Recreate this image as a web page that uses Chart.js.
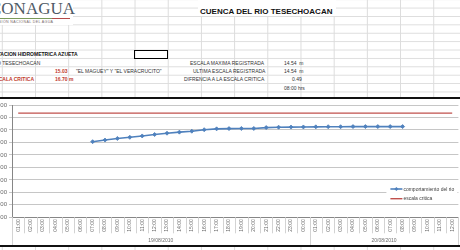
<!DOCTYPE html>
<html>
<head>
<meta charset="utf-8">
<script src="https://cdn.jsdelivr.net/npm/chart.js@4.4.1/dist/chart.umd.min.js"></script>
<style>
  html, body { margin: 0; padding: 0; width: 460px; height: 250px; overflow: hidden; background: #fff; }
  body { font-family: 'Liberation Sans', Arial, sans-serif; position: relative; }
  #sheet {
    position: absolute; left: 0; top: 0; width: 460px; height: 250px;
    background-image: linear-gradient(to right, #dcdcdc 1px, transparent 1px),
                      linear-gradient(to bottom, #dcdcdc 1px, transparent 1px);
    background-size: 33.2px 8.4px;
    background-position: 1.8px 7.6px;
  }
  .t { position: absolute; white-space: nowrap; font-size: 5px; line-height: 6px; color: #333; }
  .b { font-weight: bold; color: #111; }
  .r { font-weight: bold; color: #c0392b; }
  .blank { position: absolute; background: #fff; }
  #logo { position: absolute; left: -10px; top: 0px; font-family: 'Liberation Serif', serif; font-size: 17px; line-height: 18px; color: #4f5a66; }
  #logoline { position: absolute; left: 0; top: 18px; width: 70px; height: 1px; background: linear-gradient(to right, #7a9a5a 0%, #7a9a5a 75%, #b34a4a 75%); }
  #logosub { position: absolute; left: -12px; top: 20px; font-size: 3.6px; line-height: 4px; color: #7a6a6a; letter-spacing: 0.35px; }
  #title { position: absolute; left: 200px; top: 7px; font-size: 8px; line-height: 10px; font-weight: bold; color: #111; }
  #selcell { position: absolute; left: 134px; top: 49.6px; width: 32px; height: 7px; border: 1px solid #000; }
  #frameTop { position: absolute; left: 0; top: 97px; width: 460px; height: 2px; background: #111; }
  #frameBot { position: absolute; left: 0; top: 245px; width: 460px; height: 2px; background: #111; }
  #chartBox { position: absolute; left: -28px; top: 99px; width: 492px; height: 146px; background: #fff; }
</style>
</head>
<body>
<div id="sheet"></div>
<div class="blank" style="left:0;top:0;width:73px;height:25px"></div>
<div class="blank" style="left:198px;top:0;width:138px;height:16px"></div>
<div id="logo">CONAGUA</div>
<div id="logoline"></div>
<div id="logosub">COMISIÓN NACIONAL DEL AGUA</div>
<div id="title">CUENCA DEL RIO TESECHOACAN</div>

<div class="t b" style="left:-9px;top:51px">ESTACION HIDROMETRICA AZUETA</div>
<div id="selcell"></div>
<div class="t" style="left:-8px;top:59.5px">RIO TESECHOACAN</div>
<div class="t" style="left:190px;top:59.5px">ESCALA MAXIMA REGISTRADA</div>
<div class="t" style="left:284px;top:59.5px">14.54&nbsp; m</div>
<div class="t r" style="left:55px;top:67.8px">15.03</div>
<div class="t" style="left:76px;top:67.8px">"EL MAGUEY" Y "EL VERACRUCITO"</div>
<div class="t" style="left:193px;top:67.8px">ULTIMA ESCALA REGISTRADA</div>
<div class="t" style="left:284px;top:67.8px">14.54&nbsp; m</div>
<div class="t r" style="left:-8px;top:76px">ESCALA CRITICA</div>
<div class="t r" style="left:55px;top:76px">16.70 m</div>
<div class="t" style="left:184px;top:76px">DIFRENCIA A LA ESCALA CRITICA</div>
<div class="t" style="left:292px;top:76px">0.49</div>
<div class="t" style="left:284px;top:84.5px">08:00 hrs</div>

<div id="frameTop"></div>
<div id="chartBox"><canvas id="c"></canvas></div>
<div id="frameBot"></div>

<script>
// categories: hourly readings over two days
const hours = [
  '01:00','02:00','03:00','04:00','05:00','06:00','07:00','08:00','09:00','10:00','11:00','12:00',
  '13:00','14:00','15:00','16:00','17:00','18:00','19:00','20:00','21:00','22:00','23:00','00:00',
  '01:00','02:00','03:00','04:00','05:00','06:00','07:00','08:00','09:00','10:00','11:00','12:00'
];
const days = ['19/08/2010', '20/08/2010'];
const dayLengths = [24, 12];

// river level (m)
const nivelRio = [
  null, null, null, null, null, null, 12.12, 12.38, 12.64, 12.82, 13.04, 13.27,
  13.48, 13.65, 13.80, 14.04, 14.18, 14.22, 14.24, 14.24, 14.38, 14.44, 14.46, 14.48,
  14.50, 14.52, 14.52, 14.54, 14.54, 14.54, 14.54, 14.54, null, null, null, null
];
const escalaCritica = hours.map(() => 16.70);

const yTicks = { min: 0, max: 18, step: 2 };

const labelColor = '#6a6a6a';

const groupAxis = {
  id: 'groupAxis',
  afterDraw(chart) {
    const x = chart.scales.x;
    const a = chart.chartArea;
    const ctx = chart.ctx;
    const step = x.getPixelForValue(1) - x.getPixelForValue(0);
    ctx.save();
    ctx.strokeStyle = '#d3d3d3';
    ctx.lineWidth = 1;
    for (let i = 0; i <= hours.length; i++) {
      const px = Math.round(x.getPixelForValue(i) - step / 2) + 0.5;
      ctx.beginPath();
      ctx.moveTo(px, a.bottom);
      ctx.lineTo(px, a.bottom + 16);
      ctx.stroke();
    }
    ctx.fillStyle = labelColor;
    ctx.font = '5px "Liberation Sans"';
    ctx.textAlign = 'center';
    ctx.textBaseline = 'middle';
    let start = 0;
    days.forEach((d, k) => {
      const end = start + dayLengths[k];
      const x0 = x.getPixelForValue(start) - step / 2;
      const x1 = x.getPixelForValue(end - 1) + step / 2;
      [x0, x1].forEach(px => {
        const p = Math.round(px) + 0.5;
        ctx.beginPath();
        ctx.moveTo(p, a.bottom);
        ctx.lineTo(p, chart.height);
        ctx.stroke();
      });
      ctx.fillText(d, (x0 + x1) / 2, a.bottom + 23.5);
      start = end;
    });

    // legend box inside the plot, lower right
    const lx = a.right - 72, ly = a.top + 79;
    ctx.fillStyle = '#fff';
    ctx.fillRect(lx, ly, 71, 20);
    ctx.textAlign = 'left';
    ctx.font = '5px "Liberation Sans"';
    chart.data.datasets.forEach((ds, i) => {
      const yy = ly + 5 + i * 9.7;
      ctx.strokeStyle = ds.borderColor;
      ctx.lineWidth = ds.borderWidth;
      ctx.beginPath();
      ctx.moveTo(lx + 4, yy);
      ctx.lineTo(lx + 16, yy);
      ctx.stroke();
      if (ds.pointRadius > 0) {
        ctx.fillStyle = ds.borderColor;
        ctx.beginPath();
        ctx.moveTo(lx + 10, yy - 2);
        ctx.lineTo(lx + 12, yy);
        ctx.lineTo(lx + 10, yy + 2);
        ctx.lineTo(lx + 8, yy);
        ctx.closePath();
        ctx.fill();
      }
      ctx.fillStyle = '#404040';
      ctx.fillText(ds.label, lx + 17, yy + 0.3);
    });
    ctx.restore();
  }
};

Chart.defaults.font.family = '"Liberation Sans", Arial, sans-serif';

new Chart(document.getElementById('c'), {
  type: 'line',
  data: {
    labels: hours,
    datasets: [
      {
        label: 'comportamiento del rio',
        data: nivelRio,
        borderColor: '#4f81bd',
        backgroundColor: '#4f81bd',
        borderWidth: 1.6,
        pointStyle: 'rectRot',
        pointRadius: 2,
        pointBorderWidth: 0.8,
        tension: 0,
        spanGaps: false
      },
      {
        label: 'escala critica',
        data: escalaCritica,
        borderColor: '#c0504d',
        backgroundColor: '#c0504d',
        borderWidth: 1.4,
        pointRadius: 0,
        tension: 0
      }
    ]
  },
  options: {
    responsive: true,
    maintainAspectRatio: false,
    animation: false,
    layout: { padding: { top: 6, right: 5.6, left: 0, bottom: 0 } },
    plugins: { legend: { display: false }, tooltip: { enabled: false } },
    scales: {
      x: {
        type: 'category',
        offset: true,
        afterFit(s) { s.height = 27.7; },
        grid: { display: true, drawOnChartArea: false, drawTicks: false, color: '#d3d3d3' },
        border: { color: '#868686', width: 1 },
        ticks: {
          autoSkip: false, minRotation: 90, maxRotation: 90, padding: 2,
          color: labelColor, font: { size: 5 }
        }
      },
      y: {
        min: yTicks.min,
        max: yTicks.max,
        afterFit(s) { s.width = 40; },
        grid: { color: '#c6c6c6', tickLength: 3, lineWidth: 1 },
        border: { color: '#868686', width: 1 },
        ticks: {
          stepSize: yTicks.step, padding: 2, color: labelColor, font: { size: 6 },
          callback: v => v.toFixed(2)
        }
      }
    }
  },
  plugins: [groupAxis]
});
</script>
</body>
</html>
